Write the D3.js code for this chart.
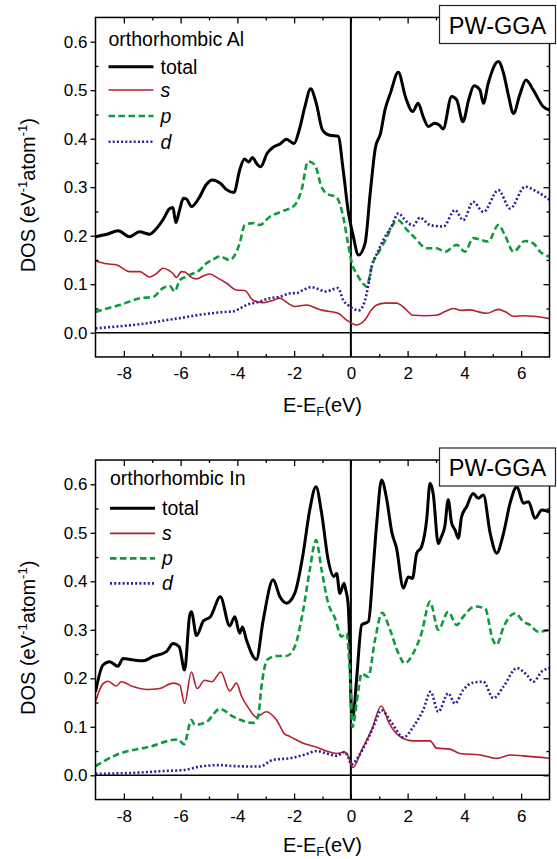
<!DOCTYPE html>
<html>
<head>
<meta charset="utf-8">
<script src="https://cdn.jsdelivr.net/npm/d3@7/dist/d3.min.js"></script>
<style>
  body { margin: 0; background: #fff; }
  svg { display: block; font-family: "Liberation Sans", Arial, Helvetica, sans-serif; }
</style>
</head>
<body>
<svg id="chart" width="557" height="859"></svg>
<script>
// ---- Data: projected density of states, [E - E_F (eV), DOS (eV^-1 atom^-1)] ----
const alTotal = [[-9.0,0.198],[-8.6,0.203],[-8.2,0.21],[-7.8,0.198],[-7.45,0.208],[-7.1,0.203],[-6.85,0.215],[-6.6,0.235],[-6.4,0.255],[-6.27,0.258],[-6.17,0.227],[-6.05,0.25],[-5.9,0.277],[-5.8,0.276],[-5.62,0.26],[-5.35,0.278],[-5.1,0.305],[-4.88,0.315],[-4.6,0.308],[-4.38,0.295],[-4.12,0.289],[-3.92,0.335],[-3.75,0.358],[-3.6,0.352],[-3.47,0.361],[-3.3,0.347],[-3.18,0.342],[-2.95,0.37],[-2.75,0.382],[-2.5,0.389],[-2.27,0.399],[-2.0,0.39],[-1.82,0.418],[-1.62,0.466],[-1.42,0.503],[-1.22,0.473],[-1.0,0.418],[-0.75,0.407],[-0.45,0.405],[-0.27,0.335],[-0.1,0.253],[0.08,0.2],[0.27,0.16],[0.5,0.184],[0.68,0.287],[0.86,0.38],[1.05,0.412],[1.2,0.459],[1.4,0.495],[1.67,0.537],[1.93,0.485],[2.18,0.456],[2.37,0.473],[2.55,0.445],[2.73,0.425],[2.95,0.432],[3.12,0.428],[3.25,0.42],[3.55,0.487],[3.73,0.48],[3.95,0.435],[4.15,0.48],[4.34,0.509],[4.55,0.5],[4.67,0.473],[4.84,0.514],[5.2,0.559],[5.38,0.535],[5.55,0.49],[5.73,0.452],[5.95,0.49],[6.17,0.521],[6.43,0.5],[6.78,0.466],[7.0,0.459]];
const alS = [[-9.0,0.148],[-8.6,0.142],[-8.27,0.14],[-7.8,0.126],[-7.44,0.126],[-7.09,0.115],[-6.85,0.122],[-6.62,0.133],[-6.4,0.128],[-6.27,0.122],[-6.15,0.114],[-5.97,0.126],[-5.85,0.125],[-5.62,0.114],[-5.44,0.111],[-5.2,0.117],[-4.97,0.121],[-4.7,0.113],[-4.38,0.102],[-4.03,0.088],[-3.74,0.087],[-3.45,0.067],[-3.1,0.062],[-2.8,0.066],[-2.5,0.071],[-2.2,0.06],[-1.98,0.054],[-1.56,0.057],[-1.2,0.05],[-0.98,0.046],[-0.45,0.04],[-0.15,0.026],[0.22,0.016],[0.49,0.026],[0.7,0.045],[0.91,0.057],[1.2,0.061],[1.61,0.061],[1.85,0.053],[2.2,0.036],[2.6,0.035],[3.02,0.036],[3.3,0.043],[3.61,0.05],[3.9,0.046],[4.2,0.047],[4.5,0.043],[4.79,0.04],[5.2,0.048],[5.45,0.043],[5.73,0.034],[6.1,0.035],[6.43,0.034],[7.0,0.029]];
const alP = [[-9.0,0.043],[-8.6,0.05],[-8.15,0.057],[-7.44,0.071],[-6.97,0.074],[-6.62,0.092],[-6.38,0.096],[-6.21,0.085],[-6.03,0.108],[-5.8,0.116],[-5.56,0.122],[-5.33,0.129],[-5.09,0.143],[-4.86,0.151],[-4.62,0.157],[-4.27,0.15],[-4.09,0.16],[-3.92,0.184],[-3.74,0.222],[-3.45,0.226],[-3.21,0.222],[-2.86,0.239],[-2.44,0.25],[-1.98,0.263],[-1.74,0.294],[-1.51,0.353],[-1.27,0.346],[-1.03,0.3],[-0.86,0.287],[-0.5,0.279],[-0.27,0.239],[-0.1,0.184],[0.05,0.14],[0.2,0.122],[0.45,0.1],[0.55,0.095],[0.75,0.14],[1.02,0.17],[1.25,0.195],[1.45,0.22],[1.67,0.232],[1.96,0.213],[2.25,0.196],[2.67,0.174],[3.02,0.174],[3.32,0.167],[3.73,0.181],[4.02,0.167],[4.31,0.195],[4.61,0.191],[4.84,0.188],[5.2,0.222],[5.43,0.201],[5.73,0.167],[6.14,0.189],[6.43,0.184],[6.67,0.167],[7.0,0.157]];
const alD = [[-9.0,0.009],[-8.2,0.013],[-7.68,0.016],[-7.0,0.021],[-6.5,0.026],[-6.03,0.03],[-5.33,0.037],[-4.6,0.042],[-4.15,0.044],[-3.9,0.05],[-3.68,0.057],[-3.21,0.064],[-2.86,0.071],[-2.5,0.074],[-2.15,0.081],[-1.9,0.082],[-1.68,0.088],[-1.4,0.094],[-1.15,0.09],[-0.9,0.085],[-0.45,0.092],[-0.27,0.067],[-0.1,0.057],[0.28,0.046],[0.49,0.065],[0.62,0.1],[0.75,0.14],[0.91,0.162],[1.15,0.192],[1.44,0.22],[1.67,0.246],[1.96,0.229],[2.2,0.221],[2.43,0.237],[2.79,0.222],[3.26,0.219],[3.67,0.253],[3.96,0.232],[4.31,0.27],[4.67,0.249],[5.2,0.294],[5.61,0.256],[6.14,0.301],[6.55,0.291],[7.0,0.274]];

const inTotal = [[-9.0,0.172],[-8.74,0.227],[-8.5,0.234],[-8.21,0.225],[-8.03,0.241],[-7.68,0.238],[-7.33,0.236],[-6.97,0.245],[-6.5,0.255],[-6.27,0.272],[-6.05,0.265],[-5.86,0.217],[-5.68,0.33],[-5.62,0.337],[-5.44,0.288],[-5.2,0.318],[-4.95,0.327],[-4.6,0.368],[-4.27,0.308],[-4.09,0.327],[-3.92,0.293],[-3.82,0.306],[-3.68,0.279],[-3.33,0.239],[-3.09,0.32],[-2.74,0.403],[-2.5,0.368],[-2.27,0.355],[-1.98,0.375],[-1.68,0.458],[-1.45,0.547],[-1.23,0.595],[-1.03,0.54],[-0.8,0.444],[-0.6,0.41],[-0.5,0.416],[-0.39,0.375],[-0.24,0.396],[-0.18,0.382],[-0.1,0.355],[-0.04,0.272],[0.02,0.135],[0.08,0.124],[0.2,0.197],[0.38,0.31],[0.62,0.317],[0.79,0.43],[0.92,0.526],[1.08,0.609],[1.26,0.57],[1.44,0.502],[1.61,0.468],[1.85,0.386],[2.02,0.409],[2.17,0.406],[2.32,0.458],[2.49,0.471],[2.67,0.526],[2.79,0.602],[2.9,0.581],[3.08,0.478],[3.19,0.492],[3.31,0.513],[3.43,0.568],[3.55,0.52],[3.67,0.506],[3.79,0.489],[3.9,0.533],[4.08,0.554],[4.31,0.581],[4.49,0.571],[4.67,0.578],[4.91,0.499],[5.14,0.458],[5.38,0.499],[5.61,0.561],[5.85,0.595],[6.08,0.561],[6.26,0.564],[6.49,0.53],[6.73,0.547],[7.0,0.543]];
const inS = [[-9.0,0.152],[-8.75,0.188],[-8.56,0.194],[-8.27,0.184],[-8.09,0.193],[-7.68,0.183],[-7.2,0.177],[-6.74,0.179],[-6.27,0.19],[-6.03,0.186],[-5.86,0.148],[-5.62,0.213],[-5.42,0.179],[-5.15,0.196],[-4.9,0.193],[-4.58,0.213],[-4.27,0.174],[-4.03,0.19],[-3.86,0.164],[-3.6,0.138],[-3.33,0.12],[-2.98,0.131],[-2.62,0.114],[-2.33,0.085],[-2.15,0.08],[-1.68,0.066],[-1.2,0.058],[-0.86,0.05],[-0.5,0.045],[-0.21,0.048],[-0.1,0.04],[0.07,0.016],[0.38,0.052],[0.73,0.093],[1.07,0.143],[1.35,0.107],[1.73,0.08],[2.2,0.071],[2.79,0.071],[3.02,0.056],[3.49,0.054],[3.84,0.045],[4.55,0.042],[5.14,0.035],[5.61,0.042],[6.08,0.04],[7.0,0.035]];
const inP = [[-9.0,0.019],[-8.27,0.042],[-7.09,0.059],[-6.09,0.074],[-5.88,0.064],[-5.62,0.114],[-5.5,0.104],[-5.09,0.11],[-4.62,0.137],[-4.15,0.121],[-3.45,0.108],[-3.27,0.121],[-3.15,0.183],[-2.95,0.238],[-2.62,0.246],[-2.27,0.246],[-1.98,0.265],[-1.68,0.341],[-1.45,0.423],[-1.23,0.485],[-1.03,0.423],[-0.8,0.355],[-0.56,0.324],[-0.33,0.286],[-0.15,0.293],[-0.04,0.217],[0.06,0.1],[0.2,0.148],[0.38,0.21],[0.61,0.203],[0.85,0.279],[1.1,0.335],[1.38,0.3],[1.67,0.252],[1.9,0.231],[2.2,0.252],[2.49,0.293],[2.79,0.358],[3.08,0.3],[3.43,0.337],[3.73,0.31],[3.96,0.327],[4.37,0.348],[4.73,0.344],[5.0,0.28],[5.14,0.269],[5.38,0.306],[5.79,0.334],[6.08,0.317],[6.31,0.31],[6.61,0.296],[7.0,0.3]];
const inD = [[-9.0,0.003],[-7.68,0.005],[-6.5,0.009],[-5.86,0.011],[-5.33,0.018],[-4.62,0.021],[-4.15,0.019],[-3.21,0.018],[-2.74,0.032],[-2.15,0.035],[-1.6,0.043],[-1.21,0.05],[-0.86,0.045],[-0.5,0.04],[-0.21,0.048],[-0.1,0.038],[0.02,0.022],[0.26,0.038],[0.55,0.069],[0.79,0.1],[1.08,0.134],[1.44,0.108],[1.85,0.078],[2.2,0.1],[2.55,0.135],[2.81,0.172],[3.08,0.131],[3.43,0.169],[3.67,0.148],[3.96,0.176],[4.31,0.191],[4.67,0.193],[5.02,0.159],[5.38,0.183],[5.85,0.221],[6.2,0.207],[6.43,0.193],[6.73,0.214],[7.0,0.221]];

const seriesNames = ["total", "s", "p", "d"];
const panelTitles = ["orthorhombic Al", "orthorhombic In"];
const methodLabel = "PW-GGA";
const xTicks = [-8, -6, -4, -2, 0, 2, 4, 6];
const xMinorTicks = [-7, -5, -3, -1, 1, 3, 5];
const yTicks = [0.0, 0.1, 0.2, 0.3, 0.4, 0.5, 0.6];
const yMinorTicks = [0.05, 0.15, 0.25, 0.35, 0.45, 0.55];
const xDomain = [-9, 7];
const yDomain = [-0.05, 0.65];

// ---- Styles ----
const seriesStyle = {
  total: { stroke: "#000000", width: 3.0, dash: null, italic: false },
  s:     { stroke: "#B3202F", width: 1.6, dash: null, italic: true },
  p:     { stroke: "#0E9A3E", width: 2.6, dash: "6.5,3.5", italic: true },
  d:     { stroke: "#3A1A96", width: 2.6, dash: "2,2.2", italic: true }
};

const svg = d3.select("#chart");
const W = 557, H = 859;
svg.append("rect").attr("width", W).attr("height", H).attr("fill", "#fff");

const left = 95.5, right = 549.5;
const x = d3.scaleLinear().domain(xDomain).range([left, right]);

const panels = [
  { data: { total: alTotal, s: alS, p: alP, d: alD }, title: panelTitles[0], zeroY: 332.7,
    titleDy: 28.3, legendDy: [49.3, 72.6, 98.6, 124.3], legendX: 108.5, boxY: 5.5, xTitleDy: 55 },
  { data: { total: inTotal, s: inS, p: inP, d: inD }, title: panelTitles[1], zeroY: 775.3,
    titleDy: 25.0, legendDy: [48.3, 73.3, 98.3, 123.3], legendX: 110, boxY: 448, xTitleDy: 52 }
];
const pxPerUnit = 485;
const plainNumber = d => String(d);   // hyphen-minus as in the axis labels

panels.forEach((pn, i) => {
  const y = d3.scaleLinear().domain(yDomain)
    .range([pn.zeroY - yDomain[0] * pxPerUnit, pn.zeroY - yDomain[1] * pxPerUnit]);
  const top = y(yDomain[1]), bottom = y(yDomain[0]);
  const g = svg.append("g");

  const clipId = "clip" + i;
  svg.append("defs").append("clipPath").attr("id", clipId)
    .append("rect").attr("x", left).attr("y", top).attr("width", right - left).attr("height", bottom - top);

  // zero reference lines
  g.append("line").attr("x1", left).attr("x2", right).attr("y1", y(0)).attr("y2", y(0))
    .attr("stroke", "#000").attr("stroke-width", 1.5);
  g.append("line").attr("x1", x(0)).attr("x2", x(0)).attr("y1", top).attr("y2", bottom)
    .attr("stroke", "#000").attr("stroke-width", 2);

  // DOS curves
  const line = d3.line().x(d => x(d[0])).y(d => y(d[1])).curve(d3.curveMonotoneX);
  const curves = g.append("g").attr("clip-path", `url(#${clipId})`);
  seriesNames.forEach(name => {
    const st = seriesStyle[name];
    curves.append("path").datum(pn.data[name])
      .attr("d", line)
      .attr("fill", "none")
      .attr("stroke", st.stroke)
      .attr("stroke-width", st.width)
      .attr("stroke-linejoin", "round")
      .attr("stroke-dasharray", st.dash);
  });

  // frame
  g.append("rect").attr("x", left).attr("y", top).attr("width", right - left).attr("height", bottom - top)
    .attr("fill", "none").attr("stroke", "#000").attr("stroke-width", 1.5);

  const styleAxis = sel => {
    sel.select(".domain").remove();
    sel.selectAll(".tick line").attr("stroke", "#000").attr("stroke-width", 1.3);
    sel.selectAll(".tick text").attr("fill", "#000").attr("font-size", 17)
      .attr("font-family", "Liberation Sans, Arial, sans-serif");
  };

  // left axis: labelled major ticks outward, minor ticks inward
  g.append("g").attr("transform", `translate(${left},0)`)
    .call(d3.axisLeft(y).tickValues(yTicks).tickSize(5).tickPadding(3).tickFormat(d3.format(".1f")))
    .call(styleAxis);
  g.append("g").attr("transform", `translate(${left},0)`)
    .call(d3.axisRight(y).tickValues(yMinorTicks).tickSize(3).tickFormat(""))
    .call(styleAxis);
  // right axis: inward ticks
  g.append("g").attr("transform", `translate(${right},0)`)
    .call(d3.axisLeft(y).tickValues(yTicks).tickSize(6).tickFormat(""))
    .call(styleAxis);
  g.append("g").attr("transform", `translate(${right},0)`)
    .call(d3.axisLeft(y).tickValues(yMinorTicks).tickSize(3).tickFormat(""))
    .call(styleAxis);
  // bottom axis: inward ticks with labels below
  g.append("g").attr("transform", `translate(0,${bottom})`)
    .call(d3.axisBottom(x).tickValues(xTicks).tickSizeInner(-6).tickSizeOuter(0).tickPadding(10).tickFormat(plainNumber))
    .call(styleAxis);
  g.append("g").attr("transform", `translate(0,${bottom})`)
    .call(d3.axisTop(x).tickValues(xMinorTicks).tickSize(3).tickFormat(""))
    .call(styleAxis);
  // top axis: inward ticks
  g.append("g").attr("transform", `translate(0,${top})`)
    .call(d3.axisBottom(x).tickValues(xTicks).tickSize(6).tickFormat(""))
    .call(styleAxis);
  g.append("g").attr("transform", `translate(0,${top})`)
    .call(d3.axisBottom(x).tickValues(xMinorTicks).tickSize(3).tickFormat(""))
    .call(styleAxis);

  // x-axis title: E-E_F(eV)
  const xt = g.append("text").attr("x", (left + right) / 2).attr("y", bottom + pn.xTitleDy)
    .attr("text-anchor", "middle").attr("font-size", 20).attr("fill", "#000");
  xt.append("tspan").text("E-E");
  xt.append("tspan").attr("font-size", 13).attr("dy", 4).text("F");
  xt.append("tspan").attr("dy", -4).text("(eV)");

  // y-axis title: DOS (eV^-1 atom^-1)
  const cy = (top + bottom) / 2 + 8;
  const yt = g.append("text").attr("transform", `translate(35,${cy}) rotate(-90)`)
    .attr("text-anchor", "middle").attr("font-size", 20).attr("fill", "#000");
  yt.append("tspan").text("DOS (eV");
  yt.append("tspan").attr("font-size", 13).attr("dy", -8).text("-1");
  yt.append("tspan").attr("dy", 8).text("atom");
  yt.append("tspan").attr("font-size", 13).attr("dy", -8).text("-1");
  yt.append("tspan").attr("dy", 8).text(")");

  // legend
  g.append("text").attr("x", pn.legendX).attr("y", top + pn.titleDy)
    .attr("font-size", 19.5).attr("fill", "#000").text(pn.title);
  seriesNames.forEach((name, k) => {
    const st = seriesStyle[name];
    const ly = top + pn.legendDy[k];
    g.append("line").attr("x1", pn.legendX).attr("x2", pn.legendX + 45).attr("y1", ly).attr("y2", ly)
      .attr("stroke", st.stroke).attr("stroke-width", st.width).attr("stroke-dasharray", st.dash);
    g.append("text").attr("x", pn.legendX + 52).attr("y", ly + 7)
      .attr("font-size", 19.5).attr("font-style", st.italic ? "italic" : "normal")
      .attr("fill", "#000").text(name);
  });

  // method tag
  const bx = 439.5, bw = 116, bh = 38;
  g.append("rect").attr("x", bx).attr("y", pn.boxY).attr("width", bw).attr("height", bh)
    .attr("fill", "#fff").attr("stroke", "#222").attr("stroke-width", 1.2);
  g.append("text").attr("x", bx + bw / 2).attr("y", pn.boxY + 28)
    .attr("text-anchor", "middle").attr("font-size", 23.5).attr("fill", "#000").text(methodLabel);
});
</script>
</body>
</html>
